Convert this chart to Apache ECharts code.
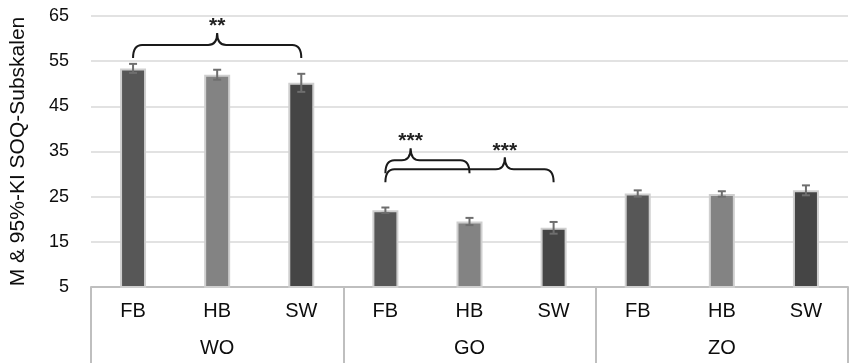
<!DOCTYPE html>
<html>
<head>
<meta charset="utf-8">
<script src="https://cdn.jsdelivr.net/npm/echarts@6/dist/echarts.min.js"></script>
<style>
html,body{margin:0;padding:0;background:#fff;}
#chart{width:850px;height:363px;}
</style>
</head>
<body>
<div id="chart"></div>
<script>
// ---- data ----
var groups = ['WO', 'GO', 'ZO'];
var subgroups = ['FB', 'HB', 'SW'];
var means = [53.4, 52.0, 50.2, 22.0, 19.5, 18.1, 25.7, 25.6, 26.4];
var ciHalf = [1.0, 1.1, 2.0, 0.6, 0.8, 1.3, 0.7, 0.6, 1.1];
var yTicks = [5, 15, 25, 35, 45, 55, 65];
// significance braces: [fromIndex, toIndex, value at brace ends, tip fraction, label]
var braces = [
  [0, 2, 55.7, 0.5, '**'],
  [3, 4, 30.2, 0.3, '***'],
  [3, 5, 28.2, 0.71, '***']
];

var barColors = ['#575757', '#838383', '#454545'];
var font = "'Liberation Sans', Arial, sans-serif";

var categories = [];
var barData = [];
var errData = [];
groups.forEach(function (g, gi) {
  subgroups.forEach(function (s, si) {
    var i = gi * subgroups.length + si;
    categories.push(s);
    barData.push({ value: means[i], itemStyle: { color: barColors[si] } });
    errData.push([i, means[i] - ciHalf[i], means[i] + ciHalf[i]]);
  });
});

var chart = echarts.init(document.getElementById('chart'));
chart.setOption({
  animation: false,
  textStyle: { fontFamily: font },
  grid: { left: 87, right: 2, top: 16, bottom: 76, containLabel: false },
  xAxis: [
    {
      type: 'category', data: categories, position: 'bottom',
      axisLine: { lineStyle: { color: '#bfbfbf', width: 2 } },
      axisTick: { show: false },
      axisLabel: { interval: 0, fontSize: 20, color: '#0d0d0d', margin: 14, fontFamily: font }
    },
    {
      type: 'category', data: groups, position: 'bottom', offset: 0,
      axisLine: { show: false },
      axisTick: { show: true, length: 76, lineStyle: { color: '#bfbfbf', width: 2 } },
      axisLabel: { interval: 0, fontSize: 20, color: '#0d0d0d', margin: 51, fontFamily: font }
    }
  ],
  yAxis: {
    type: 'value', min: yTicks[0], max: yTicks[yTicks.length - 1], interval: 10,
    name: 'M & 95%-KI SOQ-Subskalen', nameLocation: 'middle', nameRotate: 90, nameGap: 62,
    nameTextStyle: { fontSize: 21, color: '#0d0d0d', fontFamily: font },
    axisLine: { show: false }, axisTick: { show: false },
    axisLabel: { fontSize: 18, color: '#0d0d0d', margin: 22, fontFamily: font },
    splitLine: { lineStyle: { color: '#d9d9d9', width: 1.5 } }
  },
  series: [
    {
      type: 'bar', xAxisIndex: 0, data: barData, barWidth: 26,
      itemStyle: { borderColor: '#cfcfcf', borderWidth: 2 }
    },
    {
      type: 'custom', xAxisIndex: 0, data: errData, encode: { x: 0, y: [1, 2] }, z: 5,
      renderItem: function (params, api) {
        var lo = api.coord([api.value(0), api.value(1)]);
        var hi = api.coord([api.value(0), api.value(2)]);
        var w = 4;
        var st = { stroke: '#6e6e6e', lineWidth: 2 };
        return {
          type: 'group', children: [
            { type: 'line', shape: { x1: lo[0], y1: lo[1], x2: hi[0], y2: hi[1] }, style: st },
            { type: 'line', shape: { x1: hi[0] - w, y1: hi[1], x2: hi[0] + w, y2: hi[1] }, style: st },
            { type: 'line', shape: { x1: lo[0] - w, y1: lo[1], x2: lo[0] + w, y2: lo[1] }, style: st }
          ]
        };
      }
    },
    {
      type: 'custom', xAxisIndex: 0, data: braces, encode: { x: [0, 1], y: 2 }, z: 6, clip: false,
      renderItem: function (params, api) {
        var a = api.coord([api.value(0), api.value(2)]);
        var b = api.coord([api.value(1), api.value(2)]);
        var frac = api.value(3);
        var label = braces[params.dataIndex][4];
        var x1 = a[0], x2 = b[0], yb = a[1];
        var yh = yb - 13, yt = yh - 12, r = 9;
        var xt = x1 + frac * (x2 - x1);
        var d = 'M' + x1 + ' ' + yb +
          ' Q' + x1 + ' ' + yh + ' ' + (x1 + r) + ' ' + yh +
          ' L' + (xt - r) + ' ' + yh +
          ' Q' + xt + ' ' + yh + ' ' + xt + ' ' + yt +
          ' Q' + xt + ' ' + yh + ' ' + (xt + r) + ' ' + yh +
          ' L' + (x2 - r) + ' ' + yh +
          ' Q' + x2 + ' ' + yh + ' ' + x2 + ' ' + yb;
        return {
          type: 'group', children: [
            { type: 'path', shape: { pathData: d }, style: { stroke: '#1a1a1a', lineWidth: 2, fill: 'none' } },
            { type: 'text', x: xt, y: yt + 4, style: { text: label, fontSize: 21, fontWeight: 'bold', fontFamily: font, fill: '#222', align: 'center', verticalAlign: 'bottom' } }
          ]
        };
      }
    }
  ]
});
</script>
</body>
</html>
